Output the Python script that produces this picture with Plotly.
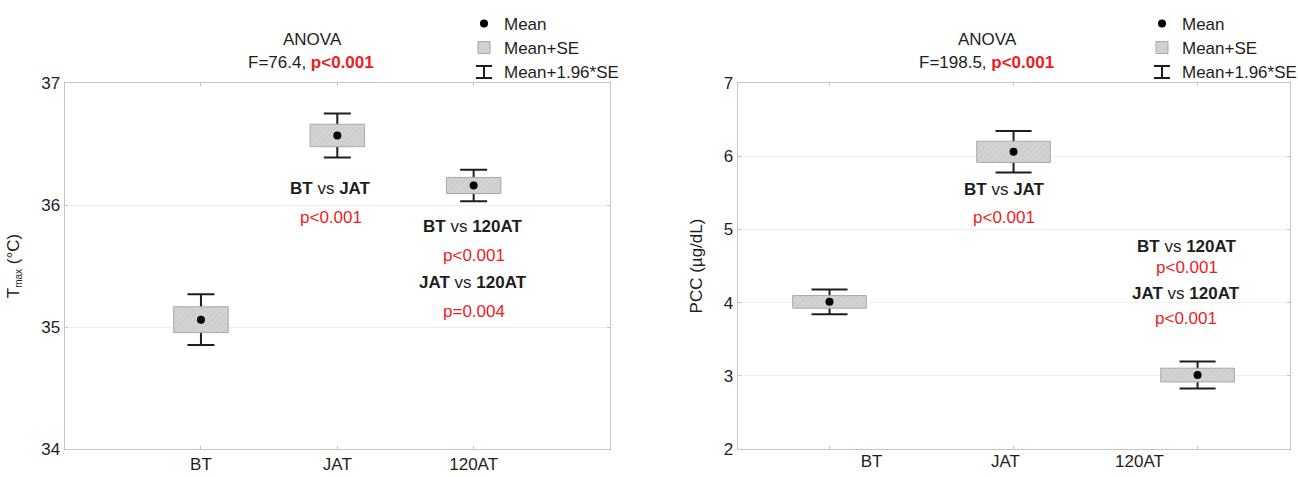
import plotly.graph_objects as go

# ---------------- data ----------------
categories = ["BT", "JAT", "120AT"]
tmax_mean = [35.06, 36.57, 36.16]
tmax_se = [0.106, 0.092, 0.066]
pcc_mean = [4.01, 6.06, 3.01]
pcc_se = [0.086, 0.145, 0.094]

tmax_anova_F = "76.4"
tmax_anova_p = "p<0.001"
pcc_anova_F = "198.5"
pcc_anova_p = "p<0.001"

tmax_pairs = [("BT", "JAT"), ("BT", "120AT"), ("JAT", "120AT")]
tmax_pvals = ["p<0.001", "p<0.001", "p=0.004"]
pcc_pairs = [("BT", "JAT"), ("BT", "120AT"), ("JAT", "120AT")]
pcc_pvals = ["p<0.001", "p<0.001", "p<0.001"]

legend_labels = ["Mean", "Mean+SE", "Mean+1.96*SE"]

# ---------------- style ----------------
W, H = 1298, 477
ML, MR, MT, MB = 64, 8, 83, 28
PW, PH = W - ML - MR, H - MT - MB
FONT = "Liberation Sans, Arial, Roboto, sans-serif"
FS = 17
DARK = "#1e1e1e"
RED = "#ed1c24"
AX = "#c4c4c4"
GRID = "#efefef"
BOX = "#d2d2d2"
HATCH = "#bdbdbd"
BOXLINE = "#a8a8a8"


def px(x):
    """picture x pixel -> paper coordinate"""
    return (x - ML) / PW


def py(y):
    """picture y pixel -> paper coordinate"""
    return (H - MB - y) / PH


def esc(s):
    return s.replace("<", "&lt;")


fig = go.Figure()


def add_panel(mean, se, xa, ya, legends, cap_half):
    lower = [m - s for m, s in zip(mean, se)]
    span = [2 * s for s in se]
    ci = [1.96 * s for s in se]
    # whiskers (Mean +/- 1.96*SE), drawn under the box
    fig.add_trace(go.Bar(
        x=categories, y=mean, width=0.4, xaxis=xa, yaxis=ya,
        marker=dict(color="rgba(0,0,0,0)", line=dict(width=0)),
        error_y=dict(type="data", array=ci, color=DARK, thickness=2, width=cap_half),
        name=legend_labels[2], legend=legends[2], showlegend=True, hoverinfo="skip"))
    # box (Mean +/- SE)
    fig.add_trace(go.Bar(
        x=categories, y=span, base=lower, width=0.4, xaxis=xa, yaxis=ya,
        marker=dict(color=BOX, line=dict(color=BOXLINE, width=1),
                    pattern=dict(shape="/", fgcolor=HATCH, bgcolor=BOX, size=4, solidity=0.2)),
        name=legend_labels[1], legend=legends[1], showlegend=True))
    # mean
    fig.add_trace(go.Scatter(
        x=categories, y=mean, mode="markers", xaxis=xa, yaxis=ya,
        marker=dict(color="black", size=8),
        name=legend_labels[0], legend=legends[0], showlegend=True))


add_panel(tmax_mean, tmax_se, "x", "y", ["legend", "legend2", "legend3"], 13.5)
add_panel(pcc_mean, pcc_se, "x2", "y2", ["legend4", "legend5", "legend6"], 18)

# invisible carrier for the category labels of the right panel (label axis x3)
fig.add_trace(go.Scatter(x=categories, y=pcc_mean, xaxis="x3", yaxis="y2", mode="markers",
                         marker=dict(color="rgba(0,0,0,0)", size=1), showlegend=False,
                         hoverinfo="skip"))

tickfont = dict(family=FONT, size=FS, color=DARK)
common_x = dict(type="category", showline=True, linecolor=AX, linewidth=1, mirror="ticks",
                ticks="inside", ticklen=3, tickcolor=AX, showgrid=False, zeroline=False,
                tickfont=tickfont, fixedrange=True)
common_y = dict(showline=True, linecolor=AX, linewidth=1, mirror="ticks", ticks="inside",
                ticklen=3, tickcolor=AX, showgrid=True, gridcolor=GRID, gridwidth=1,
                zeroline=False, dtick=1, tickfont=tickfont, fixedrange=True)

left_dom = [max(0, px(64.6)), px(610)]
right_dom = [px(737.5), min(1, px(1289.6))]

layout = dict(
    width=W, height=H,
    margin=dict(l=ML, r=MR, t=MT, b=MB, autoexpand=False),
    paper_bgcolor="white", plot_bgcolor="white",
    font=dict(family=FONT, size=FS, color=DARK),
    barmode="overlay",
    xaxis=dict(common_x, domain=left_dom, anchor="y", range=[-1, 3]),
    yaxis=dict(common_y, domain=[0, 1], anchor="x", range=[34, 37],
               title=dict(text='T<sub><span style="font-size:10px">max</span></sub> (°C)',
                          font=dict(family=FONT, size=FS, color=DARK), standoff=17)),
    xaxis2=dict(common_x, domain=right_dom, anchor="y2", range=[-0.5, 2.5], showticklabels=False),
    yaxis2=dict(common_y, domain=[0, 1], anchor="x2", range=[2, 7],
                title=dict(text="PCC (µg/dL)", font=dict(family=FONT, size=FS, color=DARK), standoff=16)),
    xaxis3=dict(type="category", overlaying="x2", anchor="y2", range=[-1.0, 3.12],
                showline=False, ticks="", showgrid=False, zeroline=False, side="bottom",
                tickfont=tickfont, fixedrange=True),
    showlegend=True,
)

# legends: one entry each, stacked
leg_rows = [24, 48, 72]
left_leg_x = 464
right_leg_x = 1142
for i, name in enumerate(["legend", "legend2", "legend3", "legend4", "legend5", "legend6"]):
    lx = left_leg_x if i < 3 else right_leg_x
    layout[name] = dict(x=px(lx), y=py(leg_rows[i % 3]), xanchor="left", yanchor="middle",
                        bgcolor="rgba(0,0,0,0)", borderwidth=0,
                        font=dict(family=FONT, size=FS, color=DARK))

fig.update_layout(layout)

# I-beam legend icons for Mean+1.96*SE
for lx in (left_leg_x, right_leg_x):
    fig.add_shape(type="path", xref="paper", yref="paper", xsizemode="pixel", ysizemode="pixel",
                  xanchor=px(lx + 20), yanchor=py(leg_rows[2]),
                  path="M-8,-6H8M0,-6V6M-8,6H8", line=dict(color=DARK, width=2))

# annotations
ann = []


def note(text, x, y, color=DARK):
    ann.append(dict(text=text, x=px(x), y=py(y), xref="paper", yref="paper", showarrow=False,
                    xanchor="center", yanchor="middle",
                    font=dict(family=FONT, size=FS, color=color)))


def red_bold(s):
    return f'<b><span style="color:{RED}">{esc(s)}</span></b>'


note("ANOVA", 312, 40)
note(f"F={tmax_anova_F}, " + red_bold(tmax_anova_p), 311, 63)
note("ANOVA", 987, 40)
note(f"F={pcc_anova_F}, " + red_bold(pcc_anova_p), 986, 63)

tmax_pos = [(330, 188, 217), (473, 226, 255.5), (473, 282.5, 311)]
pcc_pos = [(1004, 189, 217), (1187, 246.5, 267), (1186, 293, 318)]
for (a, b), p, (x, y1, y2) in zip(tmax_pairs, tmax_pvals, tmax_pos):
    note(f"<b>{a}</b> vs <b>{b}</b>", x, y1)
    note(esc(p), x + 1, y2, RED)
for (a, b), p, (x, y1, y2) in zip(pcc_pairs, pcc_pvals, pcc_pos):
    note(f"<b>{a}</b> vs <b>{b}</b>", x, y1)
    note(esc(p), x, y2, RED)

fig.update_layout(annotations=ann)

fig.write_html("out.html", config={"displayModeBar": False},
               post_script="document.body.style.margin='0';document.body.style.overflow='hidden';")
